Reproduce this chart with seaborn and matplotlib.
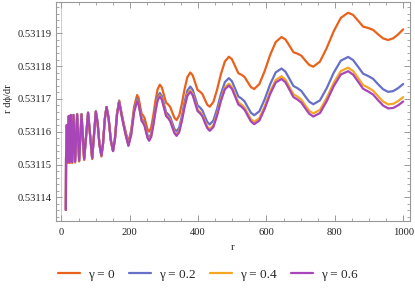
import numpy as np
import pandas as pd
import seaborn as sns
import matplotlib.pyplot as plt
from matplotlib.ticker import MultipleLocator, FormatStrFormatter

# r values shared by all curves
r = [12.9, 13.6, 15.8, 18.7, 21.7, 24.6, 27.5, 31.4, 35.3, 40.0,
     46.0, 51.8, 58.8, 66.5, 78.0, 90.0, 100.7, 105.8, 111.3, 117.0,
     121.8, 126.9, 132.0, 138.0, 144.4, 151.0, 156.7, 162.8, 169.0, 175.6,
     182.5, 189.1, 196.0, 204.1, 212.7, 221.5, 225.8, 230.2, 234.6, 239.2,
     243.4, 247.8, 252.2, 256.7, 262.7, 268.8, 275.1, 281.5, 288.0, 293.9,
     300.0, 306.2, 312.5, 318.4, 324.5, 330.7, 337.0, 344.7, 352.5, 360.5,
     368.6, 377.0, 384.0, 391.1, 398.3, 405.7, 412.6, 419.6, 426.7, 434.0,
     444.7, 455.6, 466.8, 478.3, 490.0, 499.0, 508.2, 517.6, 527.2, 536.1,
     545.3, 554.5, 564.0, 579.2, 594.7, 610.7, 627.1, 644.0, 655.4, 667.0,
     678.8, 690.8, 702.1, 713.5, 725.2, 737.0, 756.4, 776.2, 796.6, 817.5,
     839.0, 853.4, 868.0, 882.8, 897.9, 912.1, 926.5, 941.1, 956.0, 970.8,
     985.4, 1000.0]

# (r dphi/dr - 0.5311) in units of 1e-5
gamma_00 = [3.613, 5.198, 6.204, 5.046, 6.479, 5.046, 6.509, 5.046, 6.509, 5.061,
            6.530, 5.092, 6.530, 5.138, 6.579, 5.168, 6.616, 6.280, 5.609, 5.244,
            5.644, 6.383, 6.753, 6.418, 5.747, 5.412, 5.797, 6.566, 6.951, 6.584,
            6.243, 5.952, 5.686, 6.044, 6.761, 7.119, 7.029, 6.794, 6.548, 6.492,
            6.414, 6.235, 6.067, 6.000, 6.136, 6.494, 6.939, 7.297, 7.433, 7.347,
            7.121, 6.884, 6.830, 6.755, 6.583, 6.422, 6.357, 6.495, 6.857, 7.305,
            7.667, 7.805, 7.722, 7.503, 7.273, 7.221, 7.148, 6.981, 6.825, 6.762,
            6.907, 7.288, 7.761, 8.142, 8.287, 8.208, 8.001, 7.785, 7.735, 7.666,
            7.509, 7.361, 7.302, 7.453, 7.849, 8.340, 8.736, 8.887, 8.815, 8.625,
            8.425, 8.380, 8.317, 8.172, 8.036, 7.982, 8.138, 8.550, 9.060, 9.472,
            9.628, 9.561, 9.387, 9.204, 9.162, 9.104, 8.971, 8.846, 8.796, 8.848,
            8.969, 9.122]

gamma_02 = [3.613, 5.198, 6.204, 5.076, 6.479, 5.076, 6.509, 5.076, 6.509, 5.091,
            6.530, 5.122, 6.530, 5.168, 6.579, 5.198, 6.616, 6.280, 5.609, 5.274,
            5.644, 6.383, 6.753, 6.418, 5.747, 5.412, 5.797, 6.564, 6.937, 6.557,
            6.202, 5.898, 5.618, 5.960, 6.660, 7.001, 6.902, 6.658, 6.403, 6.338,
            6.252, 6.064, 5.887, 5.811, 5.936, 6.281, 6.714, 7.059, 7.182, 7.084,
            6.846, 6.597, 6.530, 6.444, 6.260, 6.086, 6.009, 6.131, 6.478, 6.910,
            7.256, 7.377, 7.280, 7.047, 6.803, 6.736, 6.649, 6.468, 6.298, 6.220,
            6.344, 6.703, 7.154, 7.512, 7.634, 7.537, 7.312, 7.077, 7.008, 6.921,
            6.746, 6.579, 6.502, 6.622, 6.987, 7.447, 7.810, 7.927, 7.833, 7.619,
            7.396, 7.327, 7.242, 7.074, 6.915, 6.837, 6.955, 7.327, 7.797, 8.167,
            8.280, 8.184, 7.981, 7.769, 7.697, 7.611, 7.449, 7.295, 7.215, 7.238,
            7.330, 7.454]

gamma_04 = [3.613, 5.198, 6.204, 5.076, 6.479, 5.076, 6.509, 5.076, 6.509, 5.091,
            6.530, 5.122, 6.530, 5.168, 6.579, 5.198, 6.616, 6.280, 5.609, 5.274,
            5.644, 6.383, 6.753, 6.418, 5.747, 5.412, 5.793, 6.547, 6.917, 6.534,
            6.176, 5.868, 5.586, 5.924, 6.620, 6.956, 6.856, 6.610, 6.353, 6.286,
            6.198, 6.008, 5.829, 5.751, 5.872, 6.216, 6.645, 6.987, 7.108, 7.007,
            6.766, 6.514, 6.445, 6.355, 6.168, 5.992, 5.911, 6.031, 6.374, 6.802,
            7.144, 7.262, 7.162, 6.925, 6.677, 6.607, 6.517, 6.333, 6.160, 6.079,
            6.198, 6.552, 6.998, 7.350, 7.467, 7.366, 7.136, 6.897, 6.824, 6.733,
            6.554, 6.383, 6.301, 6.415, 6.773, 7.225, 7.580, 7.690, 7.590, 7.372,
            7.143, 7.068, 6.978, 6.805, 6.640, 6.557, 6.666, 7.029, 7.489, 7.850,
            7.953, 7.851, 7.642, 7.422, 7.343, 7.251, 7.082, 6.922, 6.835, 6.851,
            6.936, 7.054]

gamma_06 = [3.613, 5.198, 6.204, 5.076, 6.479, 5.076, 6.509, 5.076, 6.509, 5.091,
            6.530, 5.122, 6.530, 5.168, 6.579, 5.198, 6.616, 6.280, 5.609, 5.274,
            5.644, 6.383, 6.753, 6.418, 5.747, 5.409, 5.780, 6.533, 6.902, 6.517,
            6.159, 5.851, 5.567, 5.904, 6.599, 6.934, 6.833, 6.586, 6.329, 6.261,
            6.172, 5.982, 5.802, 5.724, 5.844, 6.186, 6.615, 6.956, 7.076, 6.975,
            6.733, 6.480, 6.409, 6.319, 6.131, 5.954, 5.873, 5.991, 6.333, 6.760,
            7.101, 7.217, 7.116, 6.879, 6.630, 6.559, 6.468, 6.283, 6.109, 6.027,
            6.144, 6.497, 6.941, 7.292, 7.407, 7.305, 7.074, 6.833, 6.759, 6.667,
            6.486, 6.314, 6.231, 6.342, 6.698, 7.148, 7.501, 7.608, 7.507, 7.287,
            7.056, 6.980, 6.888, 6.714, 6.547, 6.463, 6.568, 6.929, 7.386, 7.744,
            7.845, 7.741, 7.529, 7.308, 7.226, 7.132, 6.961, 6.799, 6.710, 6.724,
            6.807, 6.922]

labels = ['γ = 0', 'γ = 0.2', 'γ = 0.4', 'γ = 0.6']
colors = ['#e8621c', '#6670c8', '#f5a623', '#a845b8']

frames = []
for lab, vals in zip(labels, [gamma_00, gamma_02, gamma_04, gamma_06]):
    frames.append(pd.DataFrame({'r': r,
                                'val': 0.5311 + np.array(vals) * 1e-5,
                                'gamma': lab}))
df = pd.concat(frames, ignore_index=True)

sns.set_style('ticks')
plt.rcParams['font.family'] = ['Liberation Serif', 'DejaVu Serif']

fig, ax = plt.subplots(figsize=(4.15, 2.91), dpi=100)
fig.subplots_adjust(left=0.134, right=0.988, top=0.994, bottom=0.2405)

ax.axvline(0, color='#d0d0d0', lw=0.8, zorder=0)
sns.lineplot(data=df, x='r', y='val', hue='gamma', hue_order=labels,
             palette=colors, lw=1.6, estimator=None, sort=False, ax=ax)

ax.set_xlim(-17, 1020)
ax.set_ylim(0.53113277, 0.53119963)

ax.xaxis.set_major_locator(MultipleLocator(200))
ax.xaxis.set_minor_locator(MultipleLocator(50))
ax.yaxis.set_major_locator(MultipleLocator(1e-5))
ax.yaxis.set_minor_locator(MultipleLocator(2e-6))
ax.yaxis.set_major_formatter(FormatStrFormatter('%.5f'))

frame_col = '#999999'
for sp in ax.spines.values():
    sp.set_color(frame_col)
    sp.set_linewidth(0.8)
ax.tick_params(which='both', direction='in', top=True, right=True,
               color=frame_col, labelsize=7.6, labelcolor='#222222')
ax.tick_params(which='major', length=4, width=0.7)
ax.tick_params(which='minor', length=2, width=0.6)
ax.tick_params(axis='x', pad=5)
ax.tick_params(axis='y', pad=3)

ax.set_xlabel('r', fontsize=7.6, color='#222222')
ax.set_ylabel('r dϕ/dr', fontsize=7.6, color='#222222')
ax.xaxis.set_label_coords(0.5, -0.1)
ax.yaxis.set_label_coords(-0.12, 0.559)

handles, labs = ax.get_legend_handles_labels()
ax.legend_.remove()
fig.legend(handles, labs, loc='center', bbox_to_anchor=(0.5, 0.055), ncol=4,
           frameon=False, fontsize=9.5, handlelength=1.67, handletextpad=0.6,
           columnspacing=1.1)

plt.savefig('out.png', dpi=100)
